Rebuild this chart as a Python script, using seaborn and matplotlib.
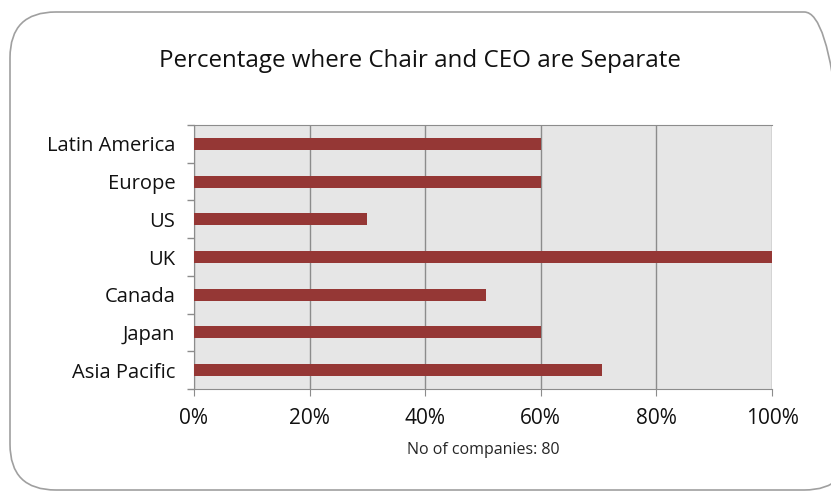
import pandas as pd
import seaborn as sns
import matplotlib.pyplot as plt
from matplotlib.patches import FancyBboxPatch
from matplotlib.ticker import PercentFormatter

regions = ['Latin America', 'Europe', 'US', 'UK', 'Canada', 'Japan', 'Asia Pacific']
separate_pct = [60, 60, 30, 100, 50.6, 60, 70.6]

df = pd.DataFrame({'region': regions, 'pct': separate_pct})

sns.set_style('white')
plt.rcParams['font.family'] = ['Open Sans', 'DejaVu Sans']
plt.rcParams['text.color'] = '#111111'
plt.rcParams['xtick.labelcolor'] = '#111111'
plt.rcParams['ytick.labelcolor'] = '#111111'

fig = plt.figure(figsize=(8.31, 4.94), dpi=100)
ax = fig.add_axes([194 / 831, 1 - 389 / 494, 578 / 831, 264 / 494])

# rounded chart border
border = FancyBboxPatch((10 / 831, 4 / 494), 840 / 831, 478 / 494,
                        boxstyle='round,pad=0,rounding_size=0.055',
                        transform=fig.transFigure, fill=False,
                        edgecolor='#a0a0a0', linewidth=1.2, mutation_aspect=831 / 494)
fig.patches.append(border)

sns.barplot(data=df, y='region', x='pct', orient='h', color='#953735',
            saturation=1, width=0.32, linewidth=0, ax=ax, zorder=3)

ax.set_facecolor('#e6e6e6')
ax.set_xlim(0, 100)
ax.set_xticks([0, 20, 40, 60, 80, 100])
ax.xaxis.set_major_formatter(PercentFormatter(decimals=0))
ax.grid(axis='x', color='#8c8c8c', linewidth=1, zorder=0)
ax.set_axisbelow(True)

for side in ['left', 'bottom', 'top']:
    ax.spines[side].set_color('#8c8c8c')
ax.spines['right'].set_visible(False)

ax.set_ylabel('')
ax.set_xlabel('No of companies: 80', fontsize=11.5, labelpad=9)
ax.tick_params(axis='y', length=0, labelsize=14.5, pad=13.5)
ax.tick_params(axis='x', bottom=True, length=5, color='#8c8c8c', labelsize=15, pad=9)

# outer tick marks between categories on left axis
ax.set_yticks([i - 0.5 for i in range(len(regions) + 1)], minor=True)
ax.tick_params(axis='y', which='minor', left=True, length=5, width=1,
               color='#8c8c8c', direction='out')

fig.text(420 / 831, 1 - 61 / 494, 'Percentage where Chair and CEO are Separate',
         ha='center', va='center', fontsize=17.4)

fig.savefig('out.png', dpi=100)
